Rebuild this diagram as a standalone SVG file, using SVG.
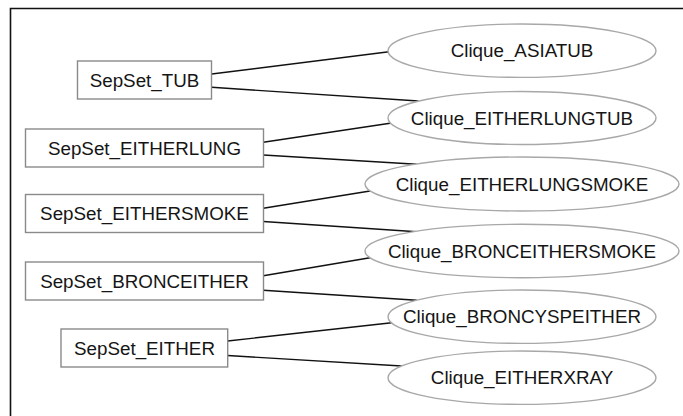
<svg xmlns="http://www.w3.org/2000/svg" width="683" height="416" viewBox="0 0 683 416">
<style>
.box{fill:#fff;stroke:#8a8a8a;stroke-width:1.4}
.ell{fill:#fff;stroke:#a8a8a8;stroke-width:1.4}
.lbl{font-family:"Liberation Sans",Arial,sans-serif;font-size:18.8px;fill:#151515;text-anchor:middle}
.edge{stroke:#111;stroke-width:1.4;fill:none}
.frame{stroke:#111;stroke-width:1.6;fill:none}
</style>
<rect width="683" height="416" fill="#fff"/>
<path class="frame" d="M10.5,420 V8.5 H690"/>
<g id="connectors">
<line class="edge" x1="211.7" y1="74" x2="389" y2="51.7"/>
<line class="edge" x1="211.7" y1="87.3" x2="418.3" y2="101"/>
<line class="edge" x1="263.3" y1="142.3" x2="390" y2="123.3"/>
<line class="edge" x1="263.3" y1="155" x2="416.7" y2="164.3"/>
<line class="edge" x1="263.3" y1="208.3" x2="370" y2="191"/>
<line class="edge" x1="263.3" y1="221.5" x2="416.7" y2="231.7"/>
<line class="edge" x1="263.3" y1="275.7" x2="370" y2="257.7"/>
<line class="edge" x1="263.3" y1="290.3" x2="416.7" y2="300.3"/>
<line class="edge" x1="227.7" y1="341" x2="391.7" y2="322.7"/>
<line class="edge" x1="227.7" y1="355.5" x2="401.7" y2="366"/>
</g>
<g id="SepSet_TUB"><rect class="box" x="77.5" y="61" width="134" height="38"/><text class="lbl" x="144.5" y="86.5">SepSet_TUB</text></g>
<g id="SepSet_EITHERLUNG"><rect class="box" x="25.5" y="129" width="238" height="38"/><text class="lbl" x="144.5" y="154.5">SepSet_EITHERLUNG</text></g>
<g id="SepSet_EITHERSMOKE"><rect class="box" x="25.5" y="194.5" width="238" height="38"/><text class="lbl" x="144.5" y="220">SepSet_EITHERSMOKE</text></g>
<g id="SepSet_BRONCEITHER"><rect class="box" x="25.5" y="262" width="238" height="38"/><text class="lbl" x="144.5" y="287.5">SepSet_BRONCEITHER</text></g>
<g id="SepSet_EITHER"><rect class="box" x="61" y="329" width="166.7" height="38"/><text class="lbl" x="144.5" y="354.5">SepSet_EITHER</text></g>
<g id="Clique_ASIATUB"><ellipse class="ell" cx="522" cy="50.7" rx="134" ry="26.7"/><text class="lbl" x="522" y="57">Clique_ASIATUB</text></g>
<g id="Clique_EITHERLUNGTUB"><ellipse class="ell" cx="522" cy="118" rx="134" ry="26.5"/><text class="lbl" x="522" y="124.5">Clique_EITHERLUNGTUB</text></g>
<g id="Clique_EITHERLUNGSMOKE"><ellipse class="ell" cx="522" cy="184" rx="157" ry="27"/><text class="lbl" x="522" y="190.5">Clique_EITHERLUNGSMOKE</text></g>
<g id="Clique_BRONCEITHERSMOKE"><ellipse class="ell" cx="522" cy="251" rx="157" ry="26.7"/><text class="lbl" x="522" y="257.5">Clique_BRONCEITHERSMOKE</text></g>
<g id="Clique_BRONCYSPEITHER"><ellipse class="ell" cx="522" cy="316.7" rx="134" ry="26.7"/><text class="lbl" x="522" y="323">Clique_BRONCYSPEITHER</text></g>
<g id="Clique_EITHERXRAY"><ellipse class="ell" cx="522" cy="377.7" rx="134" ry="26.7"/><text class="lbl" x="522" y="384">Clique_EITHERXRAY</text></g>
</svg>
